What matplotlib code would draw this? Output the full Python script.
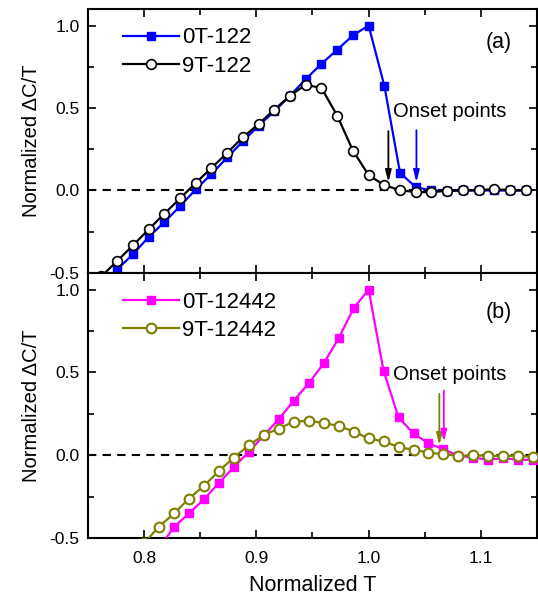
import matplotlib
matplotlib.use("Agg")
import matplotlib.pyplot as plt
from matplotlib.ticker import MultipleLocator

plt.rcParams['font.family'] = ['Liberation Sans', 'DejaVu Sans']

# panel (a): 122 sample
t_a = [0.762, 0.776, 0.790, 0.804, 0.818, 0.832, 0.846, 0.860, 0.874, 0.888,
       0.902, 0.916, 0.930, 0.944, 0.958, 0.972, 0.986, 1.000, 1.014, 1.028,
       1.042, 1.056, 1.070, 1.084, 1.098, 1.112, 1.126, 1.140]
c_0t_122 = [-0.575, -0.478, -0.387, -0.282, -0.192, -0.095, 0.006, 0.100, 0.200, 0.298,
            0.393, 0.480, 0.575, 0.675, 0.768, 0.853, 0.940, 1.000, 0.635, 0.107,
            0.020, 0.000, -0.003, 0.000, 0.000, 0.000, 0.000, 0.000]
c_9t_122 = [-0.520, -0.427, -0.333, -0.236, -0.141, -0.048, 0.046, 0.137, 0.228, 0.323,
            0.403, 0.490, 0.575, 0.641, 0.621, 0.454, 0.242, 0.093, 0.032, 0.002,
            -0.010, -0.010, -0.002, 0.000, 0.002, 0.008, 0.002, 0.000]

# panel (b): 12442 sample
t_b = [0.8000, 0.8133, 0.8267, 0.8400, 0.8533, 0.8667, 0.8800, 0.8933, 0.9067,
       0.9200, 0.9333, 0.9467, 0.9600, 0.9733, 0.9867, 1.0000, 1.0133, 1.0267,
       1.0400, 1.0533, 1.0667, 1.0800, 1.0933, 1.1067, 1.1200, 1.1333, 1.1467]
c_0t_12442 = [-0.680, -0.560, -0.433, -0.351, -0.266, -0.167, -0.071, 0.020, 0.120,
              0.218, 0.329, 0.435, 0.554, 0.706, 0.887, 1.000, 0.510, 0.228,
              0.131, 0.071, 0.036, -0.004, -0.014, -0.028, -0.018, -0.028, -0.028]
c_9t_12442 = [-0.530, -0.431, -0.351, -0.262, -0.185, -0.095, -0.014, 0.060, 0.123,
              0.161, 0.202, 0.208, 0.194, 0.177, 0.143, 0.101, 0.083, 0.050,
              0.032, 0.016, 0.006, -0.004, 0.000, -0.004, -0.004, -0.004, -0.010]

# onset arrows: (x, y_start, y_end, colour)
onset_a = [(1.0176, 0.36, 0.05, 'black'), (1.0426, 0.365, 0.05, '#0000FF')]
onset_b = [(1.063, 0.37, 0.06, '#808000'), (1.067, 0.39, 0.08, '#FF00FF')]

fig = plt.figure(figsize=(5.38, 6.01), dpi=100)
ax1 = fig.add_axes([0.1636, 0.5458, 0.8345, 0.4392])
ax2 = fig.add_axes([0.1636, 0.1048, 0.8345, 0.4410])


def setup(ax):
    ax.set_xlim(0.75, 1.15)
    ax.set_ylim(-0.5, 1.1)
    ax.axhline(0, color='black', ls=(0, (4, 3)), lw=1.5, zorder=1)
    ax.xaxis.set_major_locator(MultipleLocator(0.1))
    ax.xaxis.set_minor_locator(MultipleLocator(0.05))
    ax.yaxis.set_major_locator(MultipleLocator(0.5))
    ax.yaxis.set_minor_locator(MultipleLocator(0.25))
    ax.tick_params(which='both', direction='in', top=True, right=True,
                   labelsize=12.5, width=1.2)
    ax.tick_params(which='major', length=6, pad=6)
    ax.tick_params(which='minor', length=4)
    ax.tick_params(axis='x', which='major', pad=9)
    for s in ax.spines.values():
        s.set_linewidth(1.5)
    ax.yaxis.set_major_formatter(plt.FuncFormatter(lambda v, p: '%.1f' % v))
    ax.set_ylabel('Normalized ΔC/T', fontsize=14.5, labelpad=6)


setup(ax1)
setup(ax2)

ax1.plot(t_a, c_0t_122, '-s', color='#0000FF', lw=1.6, ms=6, label='0T-122', zorder=3)
ax1.plot(t_a, c_9t_122, '-o', color='black', lw=1.6, ms=7, mfc='white', mew=1.2,
         label='9T-122', zorder=4)
ax2.plot(t_b, c_0t_12442, '-s', color='#FF00FF', lw=1.6, ms=6, label='0T-12442', zorder=3)
ax2.plot(t_b, c_9t_12442, '-o', color='#808000', lw=1.6, ms=7, mfc='white', mew=1.5,
         label='9T-12442', zorder=4)

for ax, onset, tag, ty in [(ax1, onset_a, '(a)', 0.90), (ax2, onset_b, '(b)', 0.86)]:
    for x, y0, y1, c in onset:
        ax.annotate('', xy=(x, y1), xytext=(x, y0),
                    arrowprops=dict(arrowstyle='-|>,head_length=0.7,head_width=0.18',
                                    color=c, lw=1.3, shrinkA=0, shrinkB=0))
    ax.text(1.022, 0.48 if ax is ax1 else 0.49, 'Onset points', fontsize=14.5,
            va='center', ha='left')
    ax.text(1.116, ty, tag, fontsize=15.5, ha='center', va='center')
    ax.legend(loc='upper left', bbox_to_anchor=(0.078, 0.93), frameon=False,
              fontsize=16, handlelength=2.5, handletextpad=0.15,
              labelspacing=0.32, borderpad=0, borderaxespad=0)

ax1.tick_params(labelbottom=False)
ax2.set_xlabel('Normalized T', fontsize=15.5, labelpad=7)

fig.savefig('out.png', dpi=100)
